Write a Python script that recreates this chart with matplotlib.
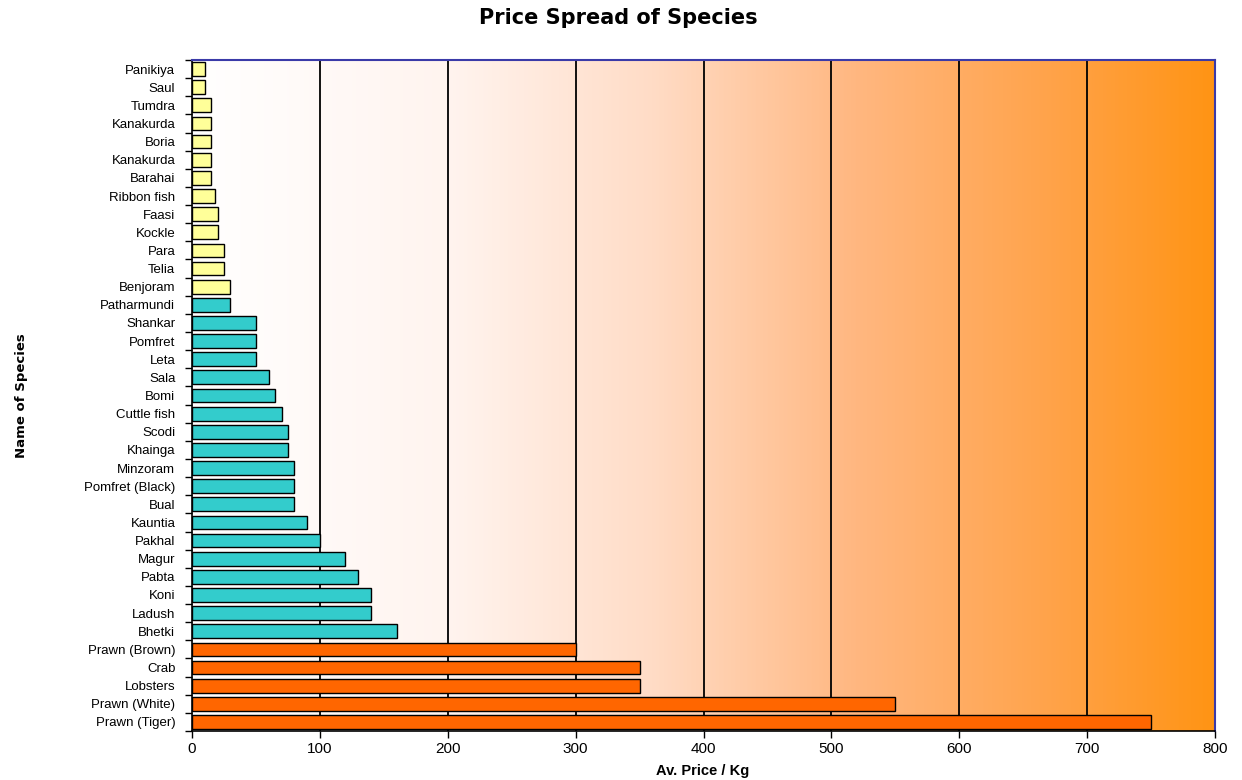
import matplotlib
matplotlib.use("Agg")
import matplotlib.pyplot as plt
import numpy as np
from matplotlib.colors import LinearSegmentedColormap

species = ["Panikiya", "Saul", "Tumdra", "Kanakurda", "Boria", "Kanakurda", "Barahai",
           "Ribbon fish", "Faasi", "Kockle", "Para", "Telia", "Benjoram",
           "Patharmundi", "Shankar", "Pomfret", "Leta", "Sala", "Bomi", "Cuttle fish",
           "Scodi", "Khainga", "Minzoram", "Pomfret (Black)", "Bual", "Kauntia", "Pakhal",
           "Magur", "Pabta", "Koni", "Ladush", "Bhetki",
           "Prawn (Brown)", "Crab", "Lobsters", "Prawn (White)", "Prawn (Tiger)"]
prices = [10, 10, 15, 15, 15, 15, 15, 18, 20, 20, 25, 25, 30,
          30, 50, 50, 50, 60, 65, 70, 75, 75, 80, 80, 80, 90, 100,
          120, 130, 140, 140, 160,
          300, 350, 350, 550, 750]
groups = ["low"] * 13 + ["mid"] * 19 + ["high"] * 5
group_colors = {"low": "#FFFF99", "mid": "#33CCCC", "high": "#FF6600"}
x_ticks = [0, 100, 200, 300, 400, 500, 600, 700, 800]

plt.rcParams["font.family"] = ["Liberation Sans", "DejaVu Sans"]

fig = plt.figure(figsize=(12.42, 7.80), dpi=100)
ax = fig.add_axes([192 / 1242, 1 - 731 / 780, (1215 - 192) / 1242, (731 - 60) / 780])

n = len(species)
ax.set_xlim(0, 800)
ax.set_ylim(n - 0.5, -0.5)

# horizontal background gradient, white to orange
cmap = LinearSegmentedColormap.from_list(
    "bg", [(0.0, "#FFFFFF"), (0.25, "#FFF4EF"), (0.45, "#FFDCC6"),
           (0.65, "#FFB780"), (0.85, "#FFA247"), (1.0, "#FF9414")])
grad = np.linspace(0, 1, 512).reshape(1, -1)
ax.imshow(grad, cmap=cmap, aspect="auto", extent=(0, 800, n - 0.5, -0.5), zorder=0)

for x in x_ticks[1:-1]:
    ax.axvline(x, color="black", lw=1.3, zorder=1)

y = np.arange(n)
ax.barh(y, prices, height=0.76, color=[group_colors[g] for g in groups],
        edgecolor="black", linewidth=1.0, zorder=2)

ax.set_yticks(np.arange(n + 1) - 0.5)
ax.set_yticklabels([])
ax.set_yticks(y, minor=True)
ax.set_yticklabels(species, minor=True, fontsize=9.5)
ax.tick_params(axis="y", which="major", length=5, width=1, direction="out")
ax.tick_params(axis="y", which="minor", length=0, pad=12)

ax.set_xticks(x_ticks)
ax.set_xticklabels([str(v) for v in x_ticks], fontsize=11)
ax.tick_params(axis="x", length=5, width=1, direction="out", pad=3)

for side in ("left", "bottom"):
    ax.spines[side].set_color("black")
    ax.spines[side].set_linewidth(1.2)
for side in ("top", "right"):
    ax.spines[side].set_color("#3A3AA8")
    ax.spines[side].set_linewidth(1.5)

fig.text(703 / 1242, 1 - 771 / 780, "Av. Price / Kg", fontsize=10.5, fontweight="bold",
         ha="center", va="center")
fig.text(0.017, 1 - 396 / 780, "Name of Species", rotation=90, fontsize=9.5,
         fontweight="heavy", ha="center", va="center", family=["DejaVu Sans"])
fig.text(618 / 1242, 1 - 18 / 780, "Price Spread of Species", fontsize=15, fontweight="bold",
         ha="center", va="center", family=["DejaVu Sans"])

fig.savefig("out.png", dpi=100)
